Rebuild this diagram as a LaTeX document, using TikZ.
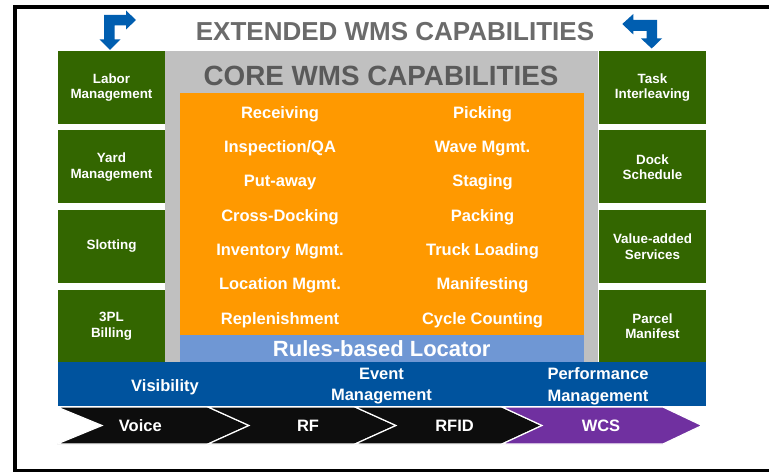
\documentclass[tikz,border=0pt]{standalone}
\usepackage{fontspec}
\setmainfont{Liberation Sans}
\definecolor{wgreen}{HTML}{336600}
\definecolor{wgray}{HTML}{C0C0C0}
\definecolor{worange}{HTML}{FF9900}
\definecolor{wlblue}{HTML}{6F97D4}
\definecolor{wblue}{HTML}{00539E}
\definecolor{warrow}{HTML}{005EB0}
\definecolor{wpurple}{HTML}{7030A0}
\definecolor{wblack}{HTML}{0D0D0D}
\definecolor{wtextA}{HTML}{6B6B6B}
\definecolor{wtextB}{HTML}{5A5A5A}
\newcommand\wfsz[2]{\fontsize{#1}{#2}\selectfont\bfseries}
\tikzset{
  gbox/.style={fill=wgreen, minimum width=107pt, minimum height=73pt, inner sep=0pt,
    text=white, align=center, font=\wfsz{13.4}{15.5}},
  area/.style={inner sep=0pt, draw=none},
  itemtext/.style={anchor=base, text=white, inner sep=0pt, font=\wfsz{16.5}{20}},
  bartext/.style={text=white, inner sep=0pt, align=center, font=\wfsz{16.5}{21.5}},
  chev/.style={draw=white, line width=1.2pt, line join=miter},
  bentarrow/.style={fill=warrow, draw=none},
}
\begin{document}
\begin{tikzpicture}[x=1pt,y=-1pt]
\useasboundingbox (0,0) rectangle (769,476);
\fill[white] (0,0) rectangle (769,476);
% outer frame (right side lies beyond the picture)
\draw[line width=3.6pt] (780,6.9) -- (14.7,6.9) -- (14.7,470.6) -- (780,470.6);

% titles
\node[anchor=base, inner sep=0pt, text=wtextA, font=\wfsz{26}{30}] (ext) at (395,40.7) {EXTENDED WMS CAPABILITIES};

% core gray
\node[area, fill=wgray, minimum width=433pt, minimum height=311pt] (core) at (381.5,206.5) {};
\node[anchor=base, inner sep=0pt, text=wtextB, font=\wfsz{27.8}{32}] (coretitle) at (381,86) {CORE WMS CAPABILITIES};
\node[area, fill=worange, minimum width=404.5pt, minimum height=241pt] (orange) at (381.75,214) {};
\node[area, fill=wlblue, minimum width=404.5pt, minimum height=27.5pt, text=white, font=\wfsz{22}{26}] (locator) at (381.75,348.25) {Rules-based Locator};

% core items
\node[itemtext] (i1) at (280,118.4) {Receiving};
\node[itemtext] (i2) at (280,152.7) {Inspection/QA};
\node[itemtext] (i3) at (280,187.0) {Put-away};
\node[itemtext] (i4) at (280,221.3) {Cross-Docking};
\node[itemtext] (i5) at (280,255.6) {Inventory Mgmt.};
\node[itemtext] (i6) at (280,289.9) {Location Mgmt.};
\node[itemtext] (i7) at (280,324.2) {Replenishment};
\node[itemtext] (j1) at (482.5,118.4) {Picking};
\node[itemtext] (j2) at (482.5,152.7) {Wave Mgmt.};
\node[itemtext] (j3) at (482.5,187.0) {Staging};
\node[itemtext] (j4) at (482.5,221.3) {Packing};
\node[itemtext] (j5) at (482.5,255.6) {Truck Loading};
\node[itemtext] (j6) at (482.5,289.9) {Manifesting};
\node[itemtext] (j7) at (482.5,324.2) {Cycle Counting};

% green boxes
\node[gbox] (l1) at (111.5,87.5) {Labor\\Management};
\node[gbox] (l2) at (111.5,167) {Yard\\Management};
\node[gbox] (l3) at (111.5,246.5) {Slotting};
\node[gbox] (l4) at (111.5,326) {3PL\\Billing};
\node[gbox] (r1) at (652.5,87.5) {Task\\Interleaving};
\node[gbox] (r2) at (652.5,167) {Dock\\Schedule};
\node[gbox] (r3) at (652.5,246.5) {Value-added\\Services};
\node[gbox] (r4) at (652.5,326) {Parcel\\Manifest};

% blue bar
\node[area, fill=wblue, minimum width=648pt, minimum height=44pt] (bar) at (382,384) {};
\node[itemtext] (vis) at (165,391.7) {Visibility};
\node[bartext] (evt) at (381.5,386.2) {Event\\Management};
\node[bartext] (perf) at (598,386.5) {Performance\\Management};

% chevrons
\path[chev, fill=wblack] (57,407) -- (208,407) -- (249,425.5) -- (208,444) -- (57,444) -- (102,425.5) -- cycle;
\path[chev, fill=wblack] (208,407) -- (355,407) -- (396,425.5) -- (355,444) -- (208,444) -- (249,425.5) -- cycle;
\path[chev, fill=wblack] (355,407) -- (502,407) -- (542,425.5) -- (502,444) -- (355,444) -- (396,425.5) -- cycle;
\path[chev, fill=wpurple] (502,407) -- (663,407) -- (702,425.5) -- (663,444) -- (502,444) -- (542,425.5) -- cycle;
\node[itemtext] (c1) at (140.3,431.7) {Voice};
\node[itemtext] (c2) at (308,431.7) {RF};
\node[itemtext] (c3) at (454.5,431.7) {RFID};
\node[itemtext] (c4) at (601,431.7) {WCS};

% bent arrows
\fill[bentarrow] (104,15) -- (126,15) -- (126,10.5) -- (136,20) -- (126,29.5) -- (126,25.5) -- (114.5,25.5) -- (114.5,39.3) -- (120.5,39.3) -- (110,50) -- (99.5,39.3) -- (104,39.3) -- cycle;
\fill[bentarrow] (657,20) -- (633.3,20) -- (633.3,14) -- (622.3,24) -- (633.3,34.5) -- (633.3,30.8) -- (646.7,30.8) -- (646.7,38.5) -- (641,38.5) -- (651.7,48.5) -- (662,38.5) -- (657,38.5) -- cycle;
\end{tikzpicture}
\end{document}
